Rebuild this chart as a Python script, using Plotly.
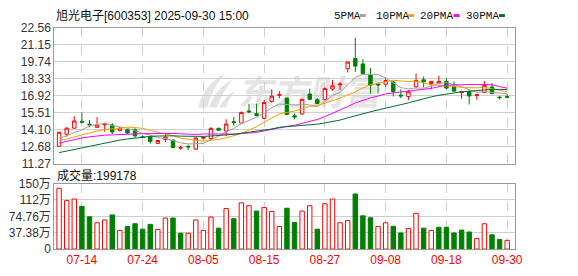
import base64
import plotly.graph_objects as go

# ---------------- data ----------------
dates = [
    "2025-07-09", "2025-07-10", "2025-07-11", "2025-07-14", "2025-07-15", "2025-07-16", "2025-07-17",
    "2025-07-18", "2025-07-21", "2025-07-22", "2025-07-23", "2025-07-24", "2025-07-25", "2025-07-28",
    "2025-07-29", "2025-07-30", "2025-07-31", "2025-08-01", "2025-08-04", "2025-08-05", "2025-08-06",
    "2025-08-07", "2025-08-08", "2025-08-11", "2025-08-12", "2025-08-13", "2025-08-14", "2025-08-15",
    "2025-08-18", "2025-08-19", "2025-08-20", "2025-08-21", "2025-08-22", "2025-08-25", "2025-08-26",
    "2025-08-27", "2025-08-28", "2025-08-29", "2025-09-01", "2025-09-02", "2025-09-03", "2025-09-04",
    "2025-09-05", "2025-09-08", "2025-09-09", "2025-09-10", "2025-09-11", "2025-09-12", "2025-09-15",
    "2025-09-16", "2025-09-17", "2025-09-18", "2025-09-19", "2025-09-22", "2025-09-23", "2025-09-24",
    "2025-09-25", "2025-09-26", "2025-09-29", "2025-09-30",
]

opens = [12.71, 13.72, 14.22, 14.78, 14.55, 14.29, 14.50, 14.48, 14.03, 14.09,
         14.09, 13.50, 13.51, 12.95, 13.27, 13.22, 12.56, 12.70, 12.48, 13.38,
         13.36, 14.20, 13.98, 14.76, 14.64, 15.65, 15.42, 15.04, 16.45, 16.96,
         16.72, 15.25, 15.40, 17.06, 16.58, 16.58, 17.48, 17.82, 19.17, 20.01,
         19.56, 18.64, 17.90, 17.88, 18.06, 16.97, 16.85, 17.66, 18.24, 17.93,
         17.96, 18.11, 17.70, 17.18, 17.25, 16.95, 17.19, 17.64, 16.80, 16.84]
highs = [13.92, 14.29, 15.22, 15.53, 14.90, 15.14, 14.66, 14.64, 14.32, 14.12,
         14.22, 13.62, 13.62, 13.22, 13.77, 13.30, 12.76, 12.85, 13.45, 13.52,
         14.30, 14.28, 14.96, 15.15, 15.60, 16.25, 16.25, 16.55, 17.45, 17.30,
         16.75, 15.45, 16.65, 17.51, 16.72, 17.60, 18.24, 18.05, 19.74, 21.75,
         19.95, 19.22, 18.00, 18.43, 18.15, 17.45, 17.40, 18.77, 18.51, 18.12,
         18.58, 18.38, 18.11, 17.33, 17.35, 17.06, 18.14, 17.98, 16.90, 17.06]
lows = [12.68, 13.50, 14.18, 14.64, 14.29, 14.27, 13.92, 13.72, 13.95, 13.72,
        13.43, 13.40, 12.92, 12.92, 13.06, 12.55, 12.45, 12.40, 12.42, 13.30,
        13.26, 13.98, 13.56, 14.43, 14.60, 15.45, 15.20, 15.00, 16.35, 16.70,
        15.30, 14.95, 15.35, 16.55, 16.20, 16.55, 17.33, 17.38, 18.85, 18.90,
        18.65, 17.10, 17.12, 17.64, 16.85, 16.72, 16.55, 17.60, 17.60, 17.45,
        17.92, 17.45, 17.25, 16.66, 16.19, 16.58, 17.12, 17.05, 16.60, 16.70]
closes = [13.88, 14.22, 14.82, 14.72, 14.50, 14.48, 14.60, 13.90, 14.22, 13.82,
          13.58, 13.44, 13.11, 13.19, 13.48, 12.62, 12.60, 12.66, 13.40, 13.45,
          14.20, 14.05, 14.56, 14.68, 15.53, 15.58, 15.28, 16.35, 16.88, 17.00,
          15.35, 15.15, 16.62, 16.62, 16.27, 17.51, 17.74, 17.88, 19.72, 19.38,
          18.75, 17.80, 17.82, 18.18, 17.27, 16.90, 17.25, 18.19, 18.08, 18.11,
          18.11, 17.55, 17.30, 17.24, 16.90, 17.00, 17.78, 17.10, 16.76, 16.80]

# closes of the 29 sessions before the first visible day (needed for the MA warm-up)
prior_closes = [10.3, 10.4, 10.5, 10.5, 10.6, 10.6, 10.7, 10.7, 10.8, 10.9,
                11.3, 11.7, 12.2, 12.7, 13.0, 13.3, 13.5, 13.4, 13.3, 13.2,
                13.1, 13.0, 13.0, 12.9, 13.0, 13.3, 13.5, 13.6, 12.72]

volumes = [1387000, 1105000, 1142000, 975000, 737000, 600000, 665000, 780000, 427000, 514000,
           578000, 455000, 563000, 448000, 708000, 708000, 361000, 361000, 665000, 427000,
           730000, 477000, 925000, 693000, 1055000, 990000, 867000, 947000, 860000, 514000,
           932000, 607000, 867000, 990000, 455000, 1034000, 1142000, 600000, 650000, 1257000,
           758000, 715000, 514000, 600000, 520000, 368000, 470000, 817000, 477000, 427000,
           498000, 498000, 368000, 433000, 390000, 238000, 578000, 325000, 217000, 199178]
# 1 = red (up) volume bar, 0 = green (down)
vol_up = [1, 1, 1, 0, 0, 1, 1, 0, 1, 0,
          0, 0, 0, 1, 1, 0, 0, 1, 1, 1,
          1, 0, 1, 0, 1, 1, 0, 1, 1, 1,
          0, 0, 1, 1, 0, 1, 1, 1, 1, 0,
          0, 0, 1, 1, 0, 0, 1, 1, 0, 1,
          0, 0, 0, 0, 0, 1, 1, 0, 0, 1]

label_dates = ["2025-07-14", "2025-07-24", "2025-08-05", "2025-08-15",
               "2025-08-27", "2025-09-08", "2025-09-18", "2025-09-30"]
price_ticks = [11.27, 12.68, 14.10, 15.51, 16.92, 18.33, 19.74, 21.15, 22.56]
price_tick_text = ["11.27", "12.68", "14.10", "15.51", "16.92", "18.33", "19.74", "21.15", "22.56"]
vol_ticks = [0, 373800, 747600, 1121400, 1495200]
vol_tick_text = ["0", "37.38万", "74.76万", "112万", "150万"]

ma_periods = [5, 10, 20, 30]
ma_names = ["5PMA", "10PMA", "20PMA", "30PMA"]
ma_colors = ["#a0a0a0", "#f5a000", "#ff00ff", "#006e2e"]

title_text = "旭光电子[600353] 2025-09-30 15:00"

# ---------------- figure ----------------
W, H = 578, 276
RED = "#ff0000"
GREEN = "#008000"

x_idx = list(range(len(dates)))
all_closes = prior_closes + closes
n0 = len(prior_closes)


def moving_average(n):
    return [sum(all_closes[k - n + 1:k + 1]) / n for k in range(n0, len(all_closes))]


def px_x(p):
    return p / W


def px_y(p):
    return 1 - p / H


fig = go.Figure()

fig.add_trace(go.Candlestick(
    x=x_idx, open=opens, high=highs, low=lows, close=closes,
    increasing=dict(line=dict(color=RED, width=1), fillcolor="#ffffff"),
    decreasing=dict(line=dict(color=GREEN, width=1), fillcolor=GREEN),
    whiskerwidth=0, xaxis="x", yaxis="y", hoverinfo="skip", showlegend=False,
))

for n, name, col in zip(ma_periods, ma_names, ma_colors):
    fig.add_trace(go.Scatter(
        x=x_idx, y=moving_average(n), mode="lines", name=name,
        line=dict(color=col, width=1), xaxis="x", yaxis="y",
        hoverinfo="skip", showlegend=False,
    ))

fig.add_trace(go.Bar(
    x=x_idx, y=volumes, width=0.58,
    marker=dict(color=["#ffffff" if u else GREEN for u in vol_up],
                line=dict(color=[RED if u else GREEN for u in vol_up], width=1)),
    xaxis="x2", yaxis="y2", hoverinfo="skip", showlegend=False,
))

tick_idx = [dates.index(d) for d in label_dates]
tick_txt = [d[5:] for d in label_dates]

x_dom = [px_x(55), px_x(522)]
x_rng = [-0.64, 60.0]
common_x = dict(domain=x_dom, range=x_rng, tickvals=tick_idx, showgrid=True,
                gridcolor="#cfcfcf", griddash="dash", gridwidth=1, zeroline=False,
                showline=True, mirror=True, linecolor="#9a9a9a", linewidth=1, ticks="",
                fixedrange=True)
common_y = dict(showgrid=True, gridcolor="#cfcfcf", gridwidth=1, zeroline=False,
                showline=True, mirror=True, linecolor="#9a9a9a", linewidth=1, ticks="",
                tickfont=dict(family="Liberation Sans, Arial, Noto Sans CJK SC", size=12, color="#333333"),
                fixedrange=True)

fig.update_layout(
    width=W, height=H, autosize=False,
    margin=dict(l=0, r=0, t=0, b=0),
    paper_bgcolor="#ffffff", plot_bgcolor="rgba(0,0,0,0)",
    boxgap=0.35, bargap=0.4, hovermode=False,
    xaxis=dict(anchor="y", showticklabels=False, rangeslider=dict(visible=False), **common_x),
    yaxis=dict(anchor="x", domain=[px_y(165), px_y(22)], range=[price_ticks[0], price_ticks[-1]],
               tickvals=price_ticks, ticktext=price_tick_text, **common_y),
    xaxis2=dict(anchor="y2", ticktext=tick_txt, showticklabels=True,
                tickfont=dict(family="Liberation Sans, Arial", size=12, color=RED), **common_x),
    yaxis2=dict(anchor="x2", domain=[px_y(255), px_y(186)], range=[vol_ticks[0], vol_ticks[-1]],
                tickvals=vol_ticks, ticktext=vol_tick_text, **common_y),
)

txt_font = dict(family="Liberation Sans, Arial, Noto Sans CJK SC", size=12, color="#111111")
annotations = [
    dict(text=title_text, x=px_x(55), y=px_y(9), xref="paper", yref="paper",
         xanchor="left", yanchor="middle", showarrow=False, font=txt_font),
    dict(text="成交量:" + str(volumes[-1]), x=px_x(56), y=px_y(177), xref="paper", yref="paper",
         xanchor="left", yanchor="middle", showarrow=False, font=txt_font),
]
shapes = []
leg_text_x = [337, 379, 424, 471]
leg_mark_x = [365, 414, 460, 506]
for name, col, tx, mx in zip(ma_names, ma_colors, leg_text_x, leg_mark_x):
    annotations.append(dict(text=name, x=px_x(tx), y=px_y(9), xref="paper", yref="paper",
                            xanchor="left", yanchor="middle", showarrow=False,
                            font=dict(family="Liberation Mono, monospace", size=11, color="#111111")))
    shapes.append(dict(type="rect", xref="paper", yref="paper",
                       x0=px_x(mx), x1=px_x(mx + 6), y0=px_y(10.5), y1=px_y(7.5),
                       fillcolor=col, line=dict(width=0)))
fig.update_layout(annotations=annotations, shapes=shapes)

# faint watermark (brand logo) behind the price panel
svg = (
    '<svg xmlns="http://www.w3.org/2000/svg" width="192" height="42" viewBox="0 0 192 42">'
    '<g fill="#e4e4e4">'
    '<path d="M3 38 Q8 14 30 2 Q17 18 12 38 Z"/>'
    '<path d="M14 38 Q20 18 38 8 Q27 22 22 38 Z"/>'
    '<path d="M24 38 Q30 26 41 20 Q34 29 31 38 Z"/>'
    '<text x="50" y="35" font-family="Noto Sans CJK SC" font-weight="bold" font-size="36" '
    'transform="skewX(-10)">东方财富</text>'
    '</g></svg>'
)
src = "data:image/svg+xml;base64," + base64.b64encode(svg.encode("utf-8")).decode("ascii")
fig.add_layout_image(dict(source=src, xref="paper", yref="paper", x=px_x(198), y=px_y(68),
                          sizex=192 / W, sizey=42 / H, xanchor="left", yanchor="top",
                          sizing="stretch", layer="below", opacity=1))

fig.write_html("out.html", config={"displayModeBar": False, "staticPlot": True})
